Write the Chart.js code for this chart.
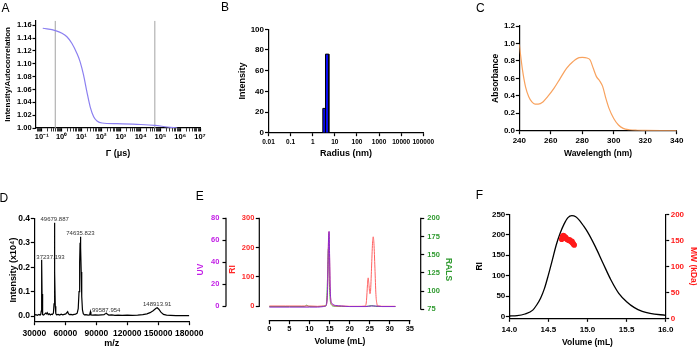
<!DOCTYPE html>
<html>
<head>
<meta charset="utf-8">
<script src="https://cdn.jsdelivr.net/npm/chart.js@4.4.1/dist/chart.umd.min.js"></script>
<style>
  body { margin: 0; background: #fff; }
  #fig { position: relative; width: 697px; height: 347px; overflow: hidden; font-family: "Liberation Sans", Arial, sans-serif; }
  #fig canvas { position: absolute; }
  .tag { position: absolute; font-size: 12px; line-height: 12px; color: #000; }
</style>
</head>
<body>
<div id="fig">
  <canvas id="chartA" width="230" height="173" style="left:0;top:0"></canvas>
  <canvas id="chartB" width="230" height="173" style="left:230px;top:0"></canvas>
  <canvas id="chartC" width="237" height="173" style="left:460px;top:0"></canvas>
  <canvas id="chartD" width="230" height="174" style="left:0;top:173px"></canvas>
  <canvas id="chartE" width="270" height="174" style="left:190px;top:173px"></canvas>
  <canvas id="chartF" width="237" height="174" style="left:460px;top:173px"></canvas>
  <div class="tag" style="left:1.5px;top:2px">A</div>
  <div class="tag" style="left:221px;top:1.2px">B</div>
  <div class="tag" style="left:476px;top:1.8px">C</div>
  <div class="tag" style="left:-0.5px;top:191.5px">D</div>
  <div class="tag" style="left:195.7px;top:190px">E</div>
  <div class="tag" style="left:475.7px;top:189px">F</div>
</div>
<script>
'use strict';

const FONT = '"Liberation Sans", Arial, sans-serif';

// A: DLS autocorrelation
const gammaUs = [0.112, 0.49, 1.05, 1.86, 3.3, 6.0, 8.7, 12.9, 19, 28, 42, 62, 112, 630, 6600, 52000, 220000, 710000];
const autocorr = [1.1553, 1.1516, 1.1475, 1.142, 1.132, 1.116, 1.103, 1.0826, 1.0566, 1.033, 1.0176, 1.011, 1.0078, 1.0067, 1.0057, 1.0042, 1.0016, 1.000];
const cursorsUs = [0.48, 52000];
const aTickLabels = ['10⁻¹', '10⁰', '10¹', '10²', '10³', '10⁴', '10⁵', '10⁶', '10⁷'];

// B: size distribution
const binEdgesNm = [2.85, 3.78, 5.34];
const binIntensity = [23.5, 76];
const bTickLabels = ['0.01', '0.1', '1', '10', '100', '1000', '10000', '100000'];

// C: UV spectrum
const wavelength = [240, 242, 244, 246, 248, 250, 252, 255, 258, 262, 266, 270, 274, 278, 280, 283, 285, 287, 289, 291, 293, 295, 297, 300, 303, 306, 310, 315, 320, 330, 340];
const absorbance = [0.99, 0.70, 0.50, 0.39, 0.33, 0.305, 0.305, 0.33, 0.39, 0.485, 0.60, 0.715, 0.79, 0.837, 0.84, 0.833, 0.81, 0.715, 0.62, 0.573, 0.505, 0.37, 0.256, 0.14, 0.065, 0.027, 0.011, 0.005, 0.003, 0.002, 0.002];

// D: mass spectrum
const mz = [30000, 31500, 33000, 34500, 35500, 36300, 36700, 37000, 37237.193, 37500,
  37800, 38300, 39000, 40000, 41000, 41800, 42500, 43500, 44500, 45500,
  46500, 47500, 48500, 49100, 49400, 49679.887, 49950, 50300, 50800, 51500,
  53000, 54500, 56000, 57500, 59000, 60500, 61500, 62300, 63000, 64000,
  65500, 67000, 68500, 70000, 71500, 72500, 73300, 73900, 74300, 74635.823,
  75000, 75400, 75900, 76600, 77400, 78500, 80000, 82000, 83500, 84300,
  84800, 86500, 89000, 92000, 95000, 97500, 99000, 99587.954, 100500, 102000,
  105000, 108000, 111000, 115000, 120000, 125000, 130000, 135000, 139000, 142000,
  145000, 147500, 148913.91, 150500, 152500, 155000, 158000, 162000, 167000, 172000,
  180000];
const intensity = [0.004, 0.006, 0.003, 0.007, 0.004, 0.008, 0.02, 0.1, 0.23, 0.09,
  0.015, 0.006, 0.004, 0.008, 0.012, 0.009, 0.014, 0.006, 0.009, 0.005,
  0.008, 0.006, 0.012, 0.05, 0.2, 0.382, 0.18, 0.04, 0.01, 0.005,
  0.007, 0.004, 0.008, 0.005, 0.007, 0.009, 0.014, 0.018, 0.01, 0.006,
  0.007, 0.005, 0.007, 0.008, 0.012, 0.03, 0.1, 0.22, 0.3, 0.325,
  0.28, 0.18, 0.08, 0.025, 0.01, 0.005, 0.006, 0.004, 0.005, 0.018,
  0.005, 0.004, 0.005, 0.004, 0.005, 0.006, 0.01, 0.012, 0.008, 0.004,
  0.005, 0.003, 0.004, 0.003, 0.004, 0.003, 0.004, 0.006, 0.009, 0.014,
  0.022, 0.031, 0.034, 0.028, 0.016, 0.007, 0.004, 0.003, 0.002, 0.002,
  0.002];
const peakMz = [37237.193, 49679.887, 74635.823, 99587.954, 148913.91];

// E: SEC traces
const riVol = [0, 4, 8, 10, 12, 13.5, 14.0, 14.3, 14.5, 14.65, 14.8, 14.9, 15.0, 15.15, 15.3, 15.5, 15.8, 16.2, 17, 18, 20, 22,
  23.9, 24.2, 24.45, 24.62, 24.8, 25.05, 25.2, 25.45, 25.7, 25.87, 26.05, 26.3, 26.55, 26.8, 27, 27.5, 28, 30, 31.4];
const riVal = [1, 1, 1, 1, 0, 1, 2, 10, 60, 170, 254, 245, 170, 60, 20, 8, 4, 2, 1, 1, 0, 0,
  1, 20, 75, 97, 75, 43, 50, 130, 215, 237, 215, 130, 40, 8, 2, 1, 0, 0, 0];
const uvVol = [0, 5, 10, 12, 13.5, 14.0, 14.3, 14.5, 14.65, 14.8, 14.9, 15.0, 15.15, 15.3, 15.5, 15.8, 16.5, 18, 20, 24, 25.5, 26.5, 28, 31.4];
const uvVal = [-1, -1, -1, -1, -0.5, 0, 3, 15, 45, 66, 68, 48, 18, 6, 3, 1.5, 0.5, 0, -0.5, -0.5, 0, 0, -0.5, -0.5];
const ralsVol = [0, 5, 8.8, 9.3, 9.8, 12, 14, 14.3, 14.5, 14.7, 14.85, 15.0, 15.2, 15.5, 16, 20, 24, 25.5, 26.5, 28, 31.4];
const ralsVal = [78.8, 78.8, 78.8, 80.6, 78.9, 78.8, 79.5, 88, 120, 158, 140, 105, 86, 81, 79.3, 78.8, 78.8, 80, 79, 78.8, 78.8];

// F: SEC-MALS peak
const fVol = [14.0, 14.1, 14.2, 14.3, 14.35, 14.4, 14.45, 14.5, 14.55, 14.6, 14.65, 14.7, 14.75, 14.8, 14.85, 14.9, 14.95, 15.0, 15.1, 15.2, 15.3, 15.4, 15.5, 15.6, 15.7, 15.8, 16.0];
const fRI = [1.6, 2.4, 6.5, 16, 28.5, 45, 69, 102, 138, 175, 203.6, 226, 242, 246.7, 244, 234.5, 221.5, 207, 171, 130, 89.6, 57, 36.6, 22, 13, 8, 3.3];
const mwVol = [14.67, 14.68, 14.69, 14.70, 14.71, 14.72, 14.73, 14.74, 14.75, 14.76, 14.77, 14.78, 14.79, 14.80, 14.81, 14.82, 14.83];
const mwKDa = [152, 157, 159, 158, 155, 156, 153, 152, 151, 150, 151, 149, 147, 148, 145, 143, 141];


function pts(xs, ys) {
  return xs.map((x, i) => ({ x: x, y: ys[i] }));
}

// GraphPad-like axis: black line, outward ticks, bold labels
function makeAxis(o) {
  return {
    type: o.type || 'linear',
    position: o.position,
    min: o.min,
    max: o.max,
    weight: o.weight || 0,
    afterFit: o.fit,
    afterBuildTicks: o.buildTicks,
    grid: {
      drawOnChartArea: false, color: '#000', tickColor: '#000',
      tickLength: o.tickLength || 3.5, tickWidth: o.tickWidth || 1.2
    },
    border: { display: o.border !== false, color: '#000', width: 1.2 },
    ticks: {
      stepSize: o.step, includeBounds: false, autoSkip: false, maxRotation: 0, minRotation: 0,
      color: o.tickColor || '#000', padding: o.tickPad, callback: o.label,
      font: { family: FONT, size: o.tickSize || 8, weight: 'bold' }
    },
    title: {
      display: true, text: o.title, color: o.titleColor || '#000', padding: o.titlePad,
      font: { family: FONT, size: o.titleSize || 8.5, weight: 'bold', lineHeight: o.titleLH || 1.2 }
    }
  };
}

function baseOptions(padding, scales) {
  return {
    responsive: false,
    animation: false,
    devicePixelRatio: 1,
    layout: { padding: padding },
    plugins: { legend: { display: false }, tooltip: { enabled: false } },
    scales: scales
  };
}

function logTicks(withMinor) {
  return function (scale) {
    const ticks = [];
    for (let e = -3; e <= 8; e++) {
      for (let m = 1; m < 10; m++) {
        if (!withMinor && m > 1) continue;
        const v = m * Math.pow(10, e);
        if (v >= scale.min * 0.999 && v <= scale.max * 1.001) ticks.push({ value: v, major: m === 1 });
      }
    }
    scale.ticks = ticks;
  };
}

// axis lines that stop at the first and last tick (panel E)
const gapAxes = {
  id: 'gapAxes',
  afterDraw(chart) {
    const ctx = chart.ctx;
    ctx.save();
    ctx.strokeStyle = '#000';
    ctx.lineWidth = 1.2;
    Object.values(chart.scales).forEach(s => {
      const a = s.getPixelForValue(s.ticks[0].value);
      const b = s.getPixelForValue(s.ticks[s.ticks.length - 1].value);
      ctx.beginPath();
      if (s.isHorizontal()) {
        ctx.moveTo(a - 0.6, s.top);
        ctx.lineTo(b + 0.6, s.top);
      } else {
        const x = s.position === 'left' ? s.right : s.left;
        ctx.moveTo(x, a + 0.6);
        ctx.lineTo(x, b - 0.6);
      }
      ctx.stroke();
    });
    ctx.restore();
  }
};

// peak annotations (panel D)
const peakLabels = {
  id: 'peakLabels',
  afterDatasetsDraw(chart) {
    const ctx = chart.ctx;
    const area = chart.chartArea;
    ctx.save();
    ctx.font = '6px ' + FONT;
    ctx.fillStyle = '#333';
    ctx.textAlign = 'center';
    ctx.textBaseline = 'bottom';
    peakMz.forEach(p => {
      const text = String(p);
      const w = ctx.measureText(text).width;
      let x = chart.scales.x.getPixelForValue(p);
      x = Math.max(x, area.left + 2 + w / 2);
      const y = chart.scales.y.getPixelForValue(intensity[mz.indexOf(p)]);
      ctx.fillText(text, x, y);
    });
    ctx.restore();
  }
};


// ---------- A ----------
{
  const yMin = 1.0, yMax = 1.167;
  const datasets = [{
    data: pts(gammaUs, autocorr),
    showLine: true, borderColor: '#8c80f0', borderWidth: 1.2, pointRadius: 0,
    cubicInterpolationMode: 'monotone'
  }];
  cursorsUs.forEach(c => datasets.push({
    data: [{ x: c, y: yMin }, { x: c, y: yMax }],
    showLine: true, borderColor: '#a3a3a3', borderWidth: 1, pointRadius: 0
  }));

  const xAxis = makeAxis({
    type: 'logarithmic', position: 'bottom', min: 0.051, max: 1e7,
    fit: s => { s.height = 45; }, buildTicks: logTicks(true), tickPad: 1, tickSize: 7.5,
    label: (v, i, ticks) => ticks[i].major ? aTickLabels[Math.round(Math.log10(v)) + 1] : '',
    title: 'Γ (μs)', titleSize: 9, titlePad: { top: 0, bottom: 13.6 }
  });
  xAxis.grid.tickWidth = ctx => (ctx.tick && ctx.tick.major) ? 1.2 : 0.8;

  new Chart(document.getElementById('chartA'), {
    type: 'scatter',
    data: { datasets: datasets },
    options: baseOptions({ left: 0, top: 20.7, right: 30, bottom: 0 }, {
      x: xAxis,
      y: makeAxis({
        position: 'left', min: yMin, max: yMax, step: 0.02,
        fit: s => { s.width = 36; }, tickPad: 0.8, tickSize: 7.5,
        label: v => v.toFixed(2),
        title: 'Intensity/Autocorrelation', titleSize: 8, titlePad: { top: 2.5, bottom: 0 }
      })
    })
  });
}

// ---------- B ----------
{
  const datasets = binIntensity.map((h, i) => ({
    data: [
      { x: binEdgesNm[i], y: 0 }, { x: binEdgesNm[i], y: h },
      { x: binEdgesNm[i + 1], y: h }, { x: binEdgesNm[i + 1], y: 0 }
    ],
    showLine: true, fill: 'origin', backgroundColor: '#0a0af2',
    borderColor: '#000', borderWidth: 1, pointRadius: 0
  }));

  new Chart(document.getElementById('chartB'), {
    type: 'scatter',
    data: { datasets: datasets },
    options: baseOptions({ left: 0, top: 29.3, right: 36.7, bottom: 0 }, {
      x: makeAxis({
        type: 'logarithmic', position: 'bottom', min: 0.01, max: 1e5,
        fit: s => { s.height = 40.3; }, buildTicks: logTicks(false), tickPad: 2.6, tickSize: 6.5,
        label: v => bTickLabels[Math.round(Math.log10(v)) + 2],
        title: 'Radius (nm)', titleSize: 9, titlePad: { top: 0, bottom: 13.6 }
      }),
      y: makeAxis({
        position: 'left', min: 0, max: 100, step: 20,
        fit: s => { s.width = 38.5; }, tickPad: 1, tickSize: 8,
        title: 'Intensity', titleSize: 9, titlePad: { top: 6.9, bottom: 0 }
      })
    })
  });
}

// ---------- C ----------
new Chart(document.getElementById('chartC'), {
  type: 'scatter',
  data: {
    datasets: [{
      data: pts(wavelength, absorbance),
      showLine: true, borderColor: '#f8a25e', borderWidth: 1.2, pointRadius: 0,
      cubicInterpolationMode: 'monotone'
    }]
  },
  options: baseOptions({ left: 0, top: 26, right: 20.3, bottom: 0 }, {
    x: makeAxis({
      position: 'bottom', min: 240, max: 340, step: 20,
      fit: s => { s.height = 42.3; }, tickPad: 2, tickSize: 8,
      title: 'Wavelength (nm)', titlePad: { top: 0, bottom: 13.9 }
    }),
    y: makeAxis({
      position: 'left', min: 0, max: 1.2, step: 0.2,
      fit: s => { s.width = 59.3; }, tickPad: 0.8, tickSize: 8,
      label: v => v.toFixed(1),
      title: 'Absorbance', titlePad: { top: 30.9, bottom: 0 }
    })
  })
});

// ---------- D ----------
new Chart(document.getElementById('chartD'), {
  type: 'scatter',
  data: {
    datasets: [{
      data: pts(mz, intensity),
      showLine: true, borderColor: '#000', borderWidth: 1.2, pointRadius: 0
    }]
  },
  options: baseOptions({ left: 0, top: 45.3, right: 40.7, bottom: 0 }, {
    x: makeAxis({
      position: 'bottom', min: 30000, max: 180000, step: 30000,
      fit: s => { s.height = 25.3; }, tickPad: 3, tickSize: 8.5,
      title: 'm/z', titleSize: 9, titleLH: 0.8, titlePad: { top: 0, bottom: 0 }
    }),
    y: makeAxis({
      position: 'left', min: -0.023, max: 0.4, step: 0.1,
      fit: s => { s.width = 34.3; }, tickPad: 0.8, tickSize: 8.5,
      label: v => v.toFixed(1),
      title: 'Intensity (x10⁴)', titleSize: 9, titlePad: { top: 7.9, bottom: 0 }
    })
  }),
  plugins: [peakLabels]
});

// ---------- E ----------
// first dataset is drawn on top
new Chart(document.getElementById('chartE'), {
  type: 'scatter',
  data: {
    datasets: [
      { data: pts(uvVol, uvVal), yAxisID: 'uv', showLine: true, borderColor: '#8a2ad0', borderWidth: 1, pointRadius: 0, cubicInterpolationMode: 'monotone' },
      { data: pts(riVol, riVal), yAxisID: 'ri', showLine: true, borderColor: '#ff6060', borderWidth: 1, pointRadius: 0, cubicInterpolationMode: 'monotone' },
      { data: pts(ralsVol, ralsVal), yAxisID: 'rals', showLine: true, borderColor: '#3aa63a', borderWidth: 1, pointRadius: 0, cubicInterpolationMode: 'monotone' }
    ]
  },
  options: baseOptions({ left: 0, top: 45.3, right: 0, bottom: 0 }, {
    x: makeAxis({
      position: 'bottom', min: -2.5, max: 37.7, step: 5, border: false,
      fit: s => { s.height = 26.3; }, tickPad: 0.6, tickSize: 7.5,
      title: 'Volume (mL)', titlePad: { top: 0, bottom: 0.2 }
    }),
    uv: makeAxis({
      position: 'left', weight: 1, min: -13.4, max: 80, step: 20, border: false,
      fit: s => { s.width = 36; }, tickPad: 3.2, tickSize: 7.5, tickColor: '#c21ee6',
      title: 'UV', titleColor: '#c21ee6', titlePad: { top: 5.9, bottom: 0 }
    }),
    ri: makeAxis({
      position: 'left', weight: 0, min: -49, max: 300, step: 100, border: false,
      fit: s => { s.width = 33.3; }, tickPad: 1.5, tickSize: 7.5, tickColor: '#ff2828',
      title: 'RI', titleColor: '#ff2828', titlePad: { top: 1.9, bottom: 0 }
    }),
    rals: makeAxis({
      position: 'right', min: 59.3, max: 200, step: 25, border: false,
      fit: s => { s.width = 39.3; }, tickPad: 3.1, tickSize: 7.5, tickColor: '#2f9a2f',
      title: 'RALS', titleColor: '#2f9a2f', titlePad: { top: 6.6, bottom: 0 }
    })
  }),
  plugins: [gapAxes]
});

// ---------- F ----------
new Chart(document.getElementById('chartF'), {
  type: 'scatter',
  data: {
    datasets: [
      { data: pts(mwVol, mwKDa), yAxisID: 'mw', pointRadius: 2.8, pointBackgroundColor: '#ff1a1a', pointBorderColor: '#ff1a1a', pointBorderWidth: 0 },
      { data: pts(fVol, fRI), yAxisID: 'y', showLine: true, borderColor: '#000', borderWidth: 1.3, pointRadius: 0, cubicInterpolationMode: 'monotone' }
    ]
  },
  options: baseOptions({ left: 0, top: 41.3, right: 0, bottom: 0 }, {
    x: makeAxis({
      position: 'bottom', min: 14, max: 16, step: 0.5,
      fit: s => { s.height = 28.7; }, tickPad: 2.7, tickSize: 8,
      label: v => v.toFixed(1),
      title: 'Volume (mL)', titleLH: 1.1, titlePad: { top: 0, bottom: 0 }
    }),
    y: makeAxis({
      position: 'left', min: -4, max: 250, step: 50,
      fit: s => { s.width = 49.3; }, tickPad: 0.5, tickSize: 8,
      title: 'RI', titlePad: { top: 14.9, bottom: 0 }
    }),
    mw: makeAxis({
      position: 'right', min: 0, max: 200, step: 50,
      fit: s => { s.width = 31.3; }, tickPad: 1.5, tickSize: 8, tickColor: '#ff1a1a',
      title: 'MW (kDa)', titleColor: '#ff1a1a', titleLH: 0.9, titlePad: { top: 0, bottom: 0 }
    })
  })
});
</script>
</body>
</html>
